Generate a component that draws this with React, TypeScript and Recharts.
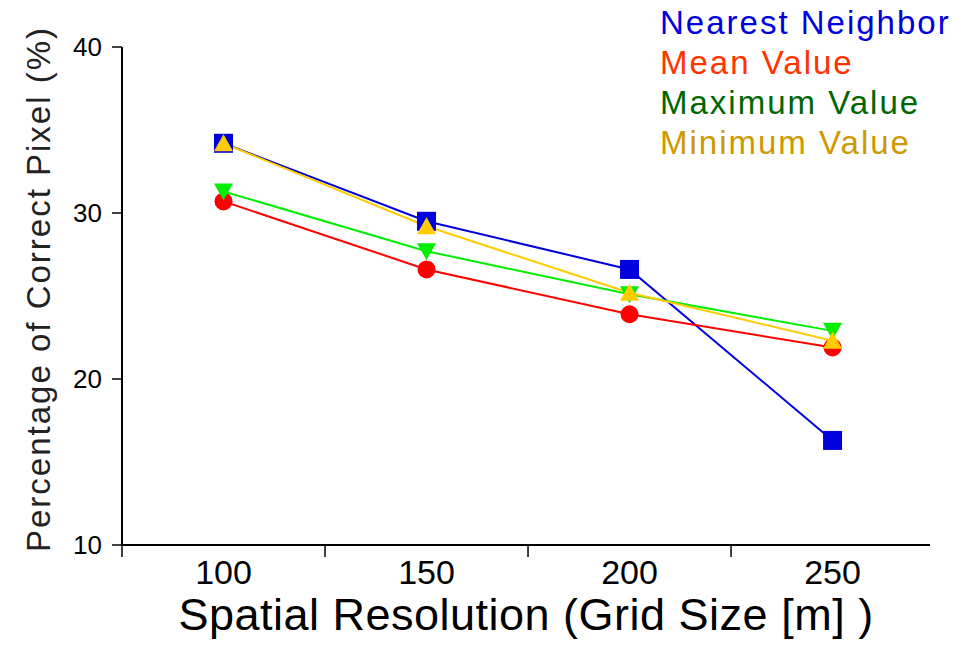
import React from 'react';
import { LineChart, Line, XAxis, YAxis, Legend } from 'recharts';

// grid size in metres, one point per size
const gridSizes = [100, 150, 200, 250];
const nearestNeighbor = [34.2, 29.5, 26.6, 16.3];
const meanValue = [30.7, 26.6, 23.9, 21.9];
const maximumValue = [31.3, 27.7, 25.1, 22.9];
const minimumValue = [34.2, 29.2, 25.2, 22.3];

const yTicks = [10, 20, 30, 40];
// tick marks sit between the labelled sizes
const xBoundaryTicks = [75, 125, 175, 225];

const FONT = '"Liberation Sans", Arial, sans-serif';

const data = gridSizes.map((g, i) => ({
  grid: g,
  nearest: nearestNeighbor[i],
  mean: meanValue[i],
  maximum: maximumValue[i],
  minimum: minimumValue[i],
}));

type Shape = 'square' | 'circle' | 'down' | 'up';

const series: { key: string; name: string; stroke: string; text: string; shape: Shape }[] = [
  { key: 'nearest', name: 'Nearest Neighbor', stroke: '#0000dd', text: '#0000dd', shape: 'square' },
  { key: 'mean', name: 'Mean Value', stroke: '#ff0000', text: '#ff3300', shape: 'circle' },
  { key: 'maximum', name: 'Maximum Value', stroke: '#00ee00', text: '#006600', shape: 'down' },
  { key: 'minimum', name: 'Minimum Value', stroke: '#ffcc00', text: '#cc9900', shape: 'up' },
];

const makeDot = (shape: Shape, color: string) => (props: any) => {
  const { cx, cy, index } = props;
  const k = `${shape}-${index}`;
  if (cx == null || cy == null) return <g key={k} />;
  if (shape === 'square') {
    return <rect key={k} x={cx - 9.5} y={cy - 9.5} width={19} height={19} fill={color} />;
  }
  if (shape === 'circle') {
    return <circle key={k} cx={cx} cy={cy} r={9} fill={color} />;
  }
  if (shape === 'up') {
    return <polygon key={k} points={`${cx},${cy - 9} ${cx + 9.5},${cy + 8} ${cx - 9.5},${cy + 8}`} fill={color} />;
  }
  return <polygon key={k} points={`${cx},${cy + 9} ${cx + 9.5},${cy - 8} ${cx - 9.5},${cy - 8}`} fill={color} />;
};

const XTick = (props: any) => {
  const { x, y, payload } = props;
  const v = payload.value;
  return (
    <g>
      {xBoundaryTicks.includes(v) && <line x1={x} y1={y} x2={x} y2={y + 12} stroke="#000" strokeWidth={1.5} />}
      {gridSizes.includes(v) && (
        <text x={x} y={y + 15} dy="0.71em" textAnchor="middle" fill="#000" fontSize={34} fontFamily={FONT}>
          {v}
        </text>
      )}
    </g>
  );
};

const YLabel = (props: any) => {
  const { x, y, height } = props.viewBox;
  const lx = x + 50;
  const ly = y + height / 2 - 7;
  return (
    <text
      x={lx}
      y={ly}
      transform={`rotate(-90, ${lx}, ${ly})`}
      textAnchor="middle"
      fill="#222"
      fontSize={33}
      fontFamily={FONT}
      style={{ letterSpacing: 2 }}
    >
      Percentage of Correct Pixel (%)
    </text>
  );
};

const LegendBox = () => (
  <div style={{ fontFamily: FONT, fontSize: 33, letterSpacing: 2, lineHeight: '40px' }}>
    {series.map((s) => (
      <div key={s.key} style={{ color: s.text, whiteSpace: 'nowrap' }}>
        {s.name}
      </div>
    ))}
  </div>
);

export default function App() {
  return (
    <div style={{ position: 'absolute', left: 0, top: 0, background: '#fff' }}>
      <LineChart width={967} height={645} data={data} margin={{ top: 47, right: 37, bottom: 0, left: 0 }}>
        <XAxis
          dataKey="grid"
          type="number"
          domain={[75, 274]}
          ticks={[75, 100, 125, 150, 175, 200, 225, 250]}
          interval={0}
          height={100}
          axisLine={{ stroke: '#000', strokeWidth: 2 }}
          tickLine={false}
          tickSize={0}
          tickMargin={0}
          tick={<XTick />}
          label={{
            value: 'Spatial Resolution (Grid Size [m] )',
            position: 'insideBottom',
            offset: 15,
            fill: '#000',
            fontSize: 45,
            fontFamily: FONT,
            style: { letterSpacing: 0.5 },
          }}
        />
        <YAxis
          type="number"
          domain={[10, 40]}
          ticks={yTicks}
          interval={0}
          width={122}
          axisLine={{ stroke: '#000', strokeWidth: 2 }}
          tickLine={{ stroke: '#000', strokeWidth: 1.5 }}
          tickSize={10}
          tickMargin={10}
          tick={{ fill: '#000', fontSize: 26, fontFamily: FONT }}
          label={<YLabel />}
        />
        <Legend
          layout="vertical"
          align="center"
          verticalAlign="middle"
          content={<LegendBox />}
          wrapperStyle={{ top: 3, left: 660, width: 307 }}
        />
        {series.map((s) => (
          <Line
            key={s.key}
            dataKey={s.key}
            name={s.name}
            type="linear"
            stroke={s.stroke}
            strokeWidth={2}
            dot={makeDot(s.shape, s.stroke)}
            activeDot={false}
            isAnimationActive={false}
          />
        ))}
      </LineChart>
    </div>
  );
}
